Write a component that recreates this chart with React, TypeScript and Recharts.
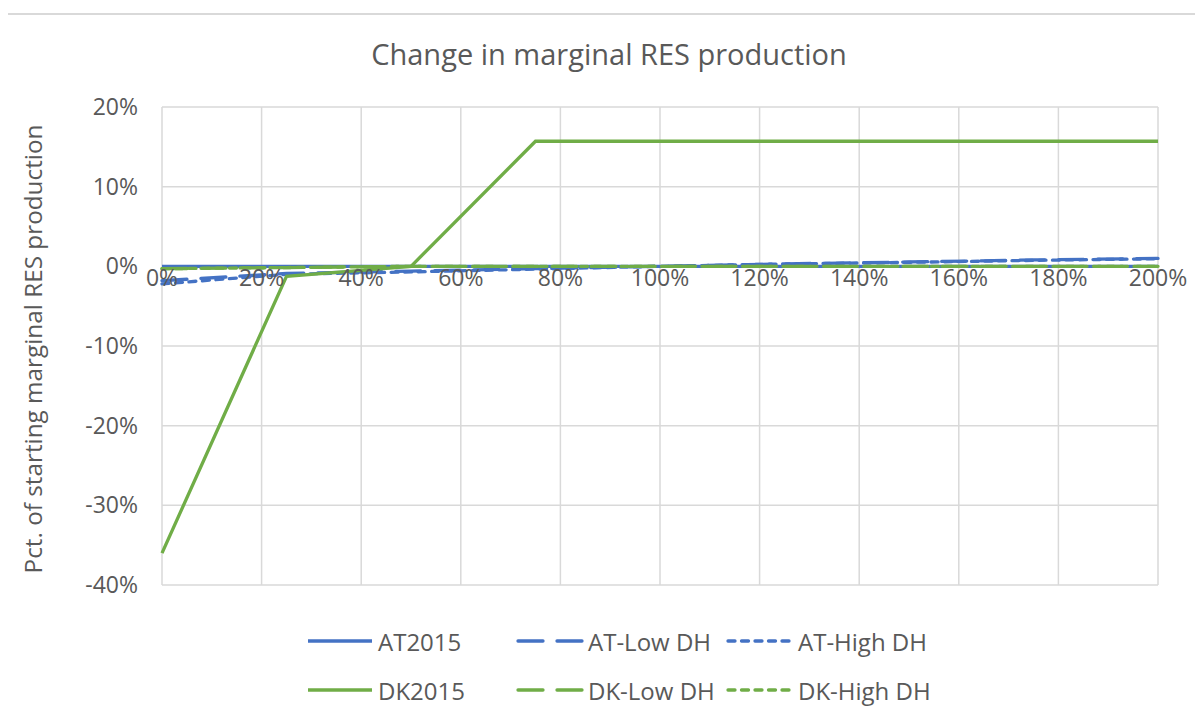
import React from "react";
import { LineChart, Line, XAxis, YAxis, CartesianGrid } from "recharts";

const xValues = [0, 0.25, 0.5, 0.75, 1, 1.25, 1.5, 1.75, 2];
const at2015 = [0, 0, 0, 0, 0, 0, 0, 0, 0];
const atLowDH = [-0.018, -0.009, -0.006, -0.003, 0, 0.003, 0.0055, 0.008, 0.01];
const atHighDH = [-0.022, -0.01, -0.007, -0.0035, 0, 0.003, 0.005, 0.0075, 0.0095];
const dk2015 = [-0.36, -0.0125, 0, 0.157, 0.157, 0.157, 0.157, 0.157, 0.157];
const dkLowDH = [-0.003, -0.0015, 0, 0, 0, 0, 0, 0, 0];
const dkHighDH = [-0.003, -0.0015, 0, 0, 0, 0, 0, 0, 0];

const xTicks = [0, 0.2, 0.4, 0.6, 0.8, 1, 1.2, 1.4, 1.6, 1.8, 2];
const yTicks = [-0.4, -0.3, -0.2, -0.1, 0, 0.1, 0.2];

const title = "Change in marginal RES production";
const yLabel = "Pct. of starting marginal RES production";

const BLUE = "#4472C4";
const GREEN = "#70AD47";
const TEXT = "#595959";
const GRID = "#D9D9D9";
const FONT = "'Open Sans', sans-serif";

const LONG_DASH = "25 14";
const SHORT_DASH = "7 6.5";

const series = [
  { key: "AT2015", values: at2015, color: BLUE, dash: undefined as string | undefined },
  { key: "AT-Low DH", values: atLowDH, color: BLUE, dash: LONG_DASH },
  { key: "AT-High DH", values: atHighDH, color: BLUE, dash: SHORT_DASH },
  { key: "DK2015", values: dk2015, color: GREEN, dash: undefined as string | undefined },
  { key: "DK-Low DH", values: dkLowDH, color: GREEN, dash: LONG_DASH },
  { key: "DK-High DH", values: dkHighDH, color: GREEN, dash: SHORT_DASH },
];

const data = xValues.map((x, i) => {
  const row: Record<string, number> = { x };
  series.forEach((s) => {
    row[s.key] = s.values[i];
  });
  return row;
});

const pct = (v: number) => `${Math.round(v * 100)}%`;

// baseline of the x tick labels, just below the zero line (chart coordinates)
const X_LABEL_BASELINE = 273;

const renderXTick = (props: any) => {
  const { x, payload } = props;
  return (
    <text
      x={x}
      y={X_LABEL_BASELINE}
      textAnchor="middle"
      fill={TEXT}
      fontSize={23}
      fontFamily={FONT}
    >
      {pct(payload.value)}
    </text>
  );
};

const YLabel = (props: any) => {
  const { viewBox } = props;
  const cx = 29;
  const cy = viewBox.y + viewBox.height / 2 + 3;
  return (
    <text
      x={cx}
      y={cy}
      transform={`rotate(-90, ${cx}, ${cy})`}
      textAnchor="middle"
      dominantBaseline="central"
      fill={TEXT}
      fontSize={24.3}
      fontFamily={FONT}
    >
      {yLabel}
    </text>
  );
};

const legendCols = [303, 513, 723];
const legendRows = [628, 677];

export default function App() {
  return (
    <div
      style={{
        position: "relative",
        width: 1203,
        height: 718,
        marginLeft: -5,
        marginTop: 5,
        background: "#fff",
        fontFamily: FONT,
      }}
    >
      <div
        style={{
          position: "absolute",
          left: 0,
          top: 0,
          width: 1220,
          height: 720,
          borderLeft: `2px solid ${GRID}`,
          borderTop: `2px solid ${GRID}`,
          boxSizing: "border-box",
        }}
      />
      <div
        style={{
          position: "absolute",
          left: 0,
          top: 21,
          width: 1212,
          textAlign: "center",
          fontSize: 29,
          color: TEXT,
          fontFamily: FONT,
        }}
      >
        {title}
      </div>
      <div style={{ position: "absolute", left: 0, top: 0 }}>
        <LineChart
          width={1200}
          height={600}
          data={data}
          margin={{ top: 94, right: 45, bottom: 0, left: 59 }}
        >
          <CartesianGrid stroke={GRID} strokeWidth={1.5} vertical horizontal />
          <XAxis
            dataKey="x"
            type="number"
            domain={[0, 2]}
            ticks={xTicks}
            height={28}
            axisLine={false}
            tickLine={false}
            tick={renderXTick}
            interval={0}
          />
          <YAxis
            type="number"
            domain={[-0.4, 0.2]}
            ticks={yTicks}
            width={100}
            axisLine={false}
            tickLine={false}
            tickSize={0}
            tickMargin={24}
            tickFormatter={pct}
            tick={{ fill: TEXT, fontSize: 23, fontFamily: FONT }}
            interval={0}
            label={<YLabel />}
          />
          {series.map((s) => (
            <Line
              key={s.key}
              dataKey={s.key}
              type="linear"
              stroke={s.color}
              strokeWidth={3.3}
              strokeDasharray={s.dash}
              strokeLinecap={s.dash ? "round" : "butt"}
              dot={false}
              activeDot={false}
              isAnimationActive={false}
            />
          ))}
        </LineChart>
      </div>
      {series.map((s, i) => {
        const col = legendCols[i % 3];
        const row = legendRows[Math.floor(i / 3)];
        return (
          <div
            key={s.key}
            style={{
              position: "absolute",
              left: col,
              top: row - 16,
              height: 32,
              display: "flex",
              alignItems: "center",
              whiteSpace: "nowrap",
            }}
          >
            <svg width={68} height={10} style={{ display: "block" }}>
              <line
                x1={2}
                y1={5}
                x2={66}
                y2={5}
                stroke={s.color}
                strokeWidth={3.3}
                strokeDasharray={s.dash}
                strokeLinecap={s.dash ? "round" : "butt"}
              />
            </svg>
            <span style={{ fontSize: 24, color: TEXT, marginLeft: 4 }}>{s.key}</span>
          </div>
        );
      })}
    </div>
  );
}
